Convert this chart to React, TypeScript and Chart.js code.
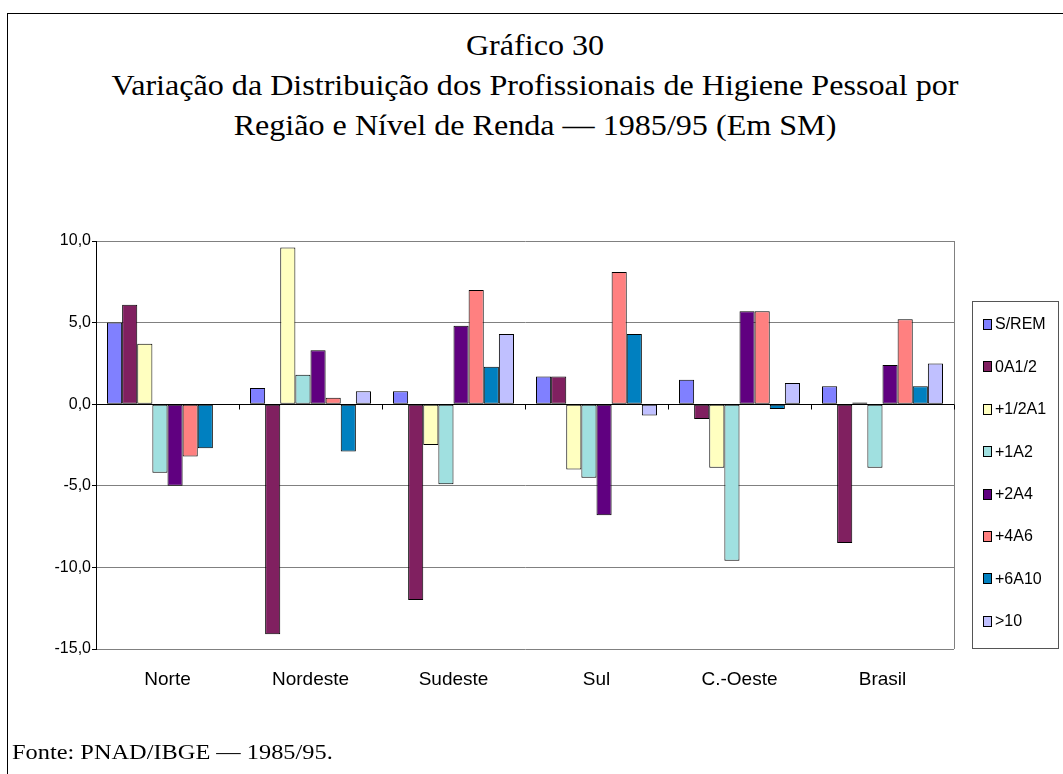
import React, { useEffect, useRef } from "react";
import { Chart, registerables } from "chart.js";

Chart.register(...registerables);

const categories = ["Norte", "Nordeste", "Sudeste", "Sul", "C.-Oeste", "Brasil"];
const seriesLabels = ["S/REM", "0A1/2", "+1/2A1", "+1A2", "+2A4", "+4A6", "+6A10", ">10"];
const seriesColors = ["#8080FF", "#802060", "#FFFFC0", "#A0E0E0", "#600080", "#FF8080", "#0080C0", "#C0C0FF"];

const sRem = [5.0, 1.0, 0.8, 1.7, 1.5, 1.1];
const zeroToHalf = [6.1, -14.1, -12.0, 1.7, -0.9, -8.5];
const halfToOne = [3.7, 9.6, -2.5, -4.0, -3.9, 0.1];
const oneToTwo = [-4.2, 1.8, -4.9, -4.5, -9.6, -3.9];
const twoToFour = [-5.0, 3.3, 4.8, -6.8, 5.7, 2.4];
const fourToSix = [-3.2, 0.4, 7.0, 8.1, 5.7, 5.2];
const sixToTen = [-2.7, -2.9, 2.3, 4.3, -0.3, 1.1];
const overTen = [0, 0.8, 4.3, -0.7, 1.3, 2.5];

const seriesValues = [sRem, zeroToHalf, halfToOne, oneToTwo, twoToFour, fourToSix, sixToTen, overTen];

const yMin = -15;
const yMax = 10;
const yStep = 5;

const SANS = "'Liberation Sans', Arial, sans-serif";
const SERIF = "'Liberation Serif', 'Times New Roman', serif";

const framePlugin = {
  id: "frame",
  beforeDatasetsDraw(chart: any) {
    const { ctx, chartArea } = chart;
    ctx.save();
    ctx.strokeStyle = "#808080";
    ctx.lineWidth = 1;
    ctx.beginPath();
    ctx.moveTo(Math.round(chartArea.right) + 0.5, chartArea.top);
    ctx.lineTo(Math.round(chartArea.right) + 0.5, chartArea.bottom);
    ctx.stroke();
    ctx.restore();
  },
  afterDatasetsDraw(chart: any) {
    const { ctx, chartArea } = chart;
    const xs = chart.scales.x;
    const ys = chart.scales.y;
    const y0 = Math.round(ys.getPixelForValue(0)) + 0.5;
    ctx.save();
    ctx.strokeStyle = "#000";
    ctx.lineWidth = 1;
    ctx.beginPath();
    ctx.moveTo(chartArea.left, y0);
    ctx.lineTo(chartArea.right, y0);
    const half = (xs.getPixelForValue(1) - xs.getPixelForValue(0)) / 2;
    for (let i = 0; i <= categories.length; i++) {
      const x = Math.round(xs.getPixelForValue(i) - half) + 0.5;
      ctx.moveTo(x, y0);
      ctx.lineTo(x, y0 + 5);
    }
    ctx.stroke();

    // legend
    const lx = 972, ly = 301, lw = 86, lh = 347;
    ctx.strokeStyle = "#555";
    ctx.strokeRect(lx + 0.5, ly + 0.5, lw, lh);
    ctx.font = "16px " + SANS;
    ctx.textBaseline = "middle";
    ctx.textAlign = "left";
    chart.data.datasets.forEach((ds: any, i: number) => {
      const cy = 324 + i * 42.4;
      ctx.fillStyle = ds.backgroundColor;
      ctx.fillRect(983.5, Math.round(cy - 5) + 0.5, 8, 10);
      ctx.strokeStyle = "#000";
      ctx.strokeRect(983.5, Math.round(cy - 5) + 0.5, 8, 10);
      ctx.fillStyle = "#000";
      ctx.fillText(ds.label, 995, cy + 1);
    });
    ctx.restore();
  },
};

export default function App() {
  const canvasRef = useRef<HTMLCanvasElement | null>(null);

  useEffect(() => {
    if (!canvasRef.current) return;
    const chart = new Chart(canvasRef.current, {
      type: "bar",
      data: {
        labels: categories,
        datasets: seriesLabels.map((label, i) => ({
          label,
          data: seriesValues[i],
          backgroundColor: seriesColors[i],
          borderColor: "#000",
          borderWidth: 1,
          borderSkipped: false,
          barPercentage: 1,
          categoryPercentage: 0.846,
        })),
      },
      options: {
        responsive: false,
        animation: false,
        layout: { padding: { top: 241, right: 109, bottom: 0, left: 0 } },
        plugins: {
          legend: { display: false },
          title: { display: false },
          tooltip: { enabled: false },
        },
        scales: {
          x: {
            grid: { display: false, drawTicks: false },
            border: { display: false },
            ticks: {
              color: "#000",
              font: { family: SANS, size: 19 },
              padding: 19,
              maxRotation: 0,
            },
            afterFit(scale: any) {
              scale.height = 125;
            },
          },
          y: {
            min: yMin,
            max: yMax,
            ticks: {
              stepSize: yStep,
              color: "#000",
              font: { family: SANS, size: 16 },
              padding: 1,
              callback: (v: any) => Number(v).toFixed(1).replace(".", ","),
            },
            grid: {
              color: (c: any) => (c.tick && c.tick.value === 0 ? "#000" : "#808080"),
              tickColor: "#000",
              tickLength: 4,
            },
            border: { display: true, color: "#000", width: 1 },
            afterFit(scale: any) {
              scale.width = 96;
            },
          },
        },
      },
      plugins: [framePlugin],
    });
    return () => chart.destroy();
  }, []);

  const titleLine: React.CSSProperties = {
    display: "block",
    whiteSpace: "nowrap",
    transform: "scaleX(1.07)",
    transformOrigin: "50% 50%",
  };

  return (
    <div
      style={{
        position: "absolute",
        left: 0,
        top: 0,
        width: 1063,
        height: 774,
        overflow: "hidden",
        background: "#fff",
      }}
    >
      <div
        style={{
          position: "absolute",
          left: 7,
          top: 13,
          width: 1100,
          height: 800,
          border: "1px solid #000",
        }}
      />
      <div
        style={{
          position: "absolute",
          left: 0,
          top: 25,
          width: 1070,
          textAlign: "center",
          fontFamily: SERIF,
          fontSize: 30,
          lineHeight: "40px",
          color: "#000",
        }}
      >
        <div style={titleLine}>Gráfico 30</div>
        <div style={titleLine}>Variação da Distribuição dos Profissionais de Higiene Pessoal por</div>
        <div style={titleLine}>Região e Nível de Renda — 1985/95 (Em SM)</div>
      </div>
      <canvas
        ref={canvasRef}
        width={1063}
        height={774}
        style={{ position: "absolute", left: 0, top: 0 }}
      />
      <div
        style={{
          position: "absolute",
          left: 12,
          top: 740,
          fontFamily: SERIF,
          fontSize: 21,
          lineHeight: "24px",
          color: "#000",
          whiteSpace: "nowrap",
          transform: "scaleX(1.16)",
          transformOrigin: "0 50%",
        }}
      >
        Fonte: PNAD/IBGE — 1985/95.
      </div>
    </div>
  );
}
